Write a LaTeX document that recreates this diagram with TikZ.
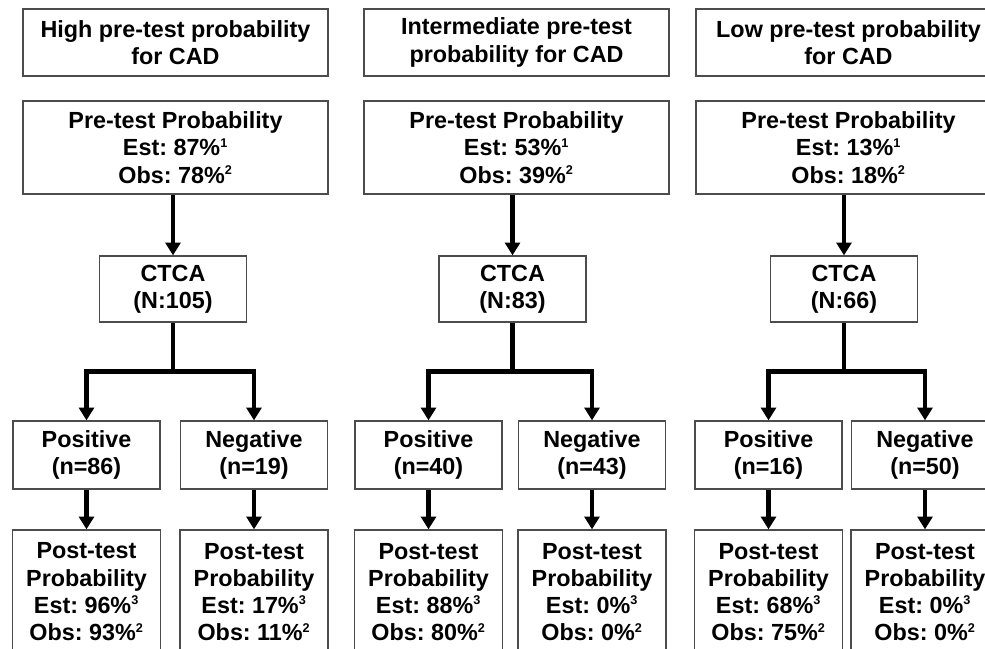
\documentclass[tikz,border=0pt]{standalone}
\usepackage{fontspec}
\setmainfont{Liberation Sans}
\usepackage{tikz}
\usetikzlibrary{arrows.meta}

\newcommand{\fn}[1]{\textsuperscript{\fontsize{9}{9}\selectfont #1}}

\tikzset{
  box/.style={draw=black!70, line width=0.9pt, align=center, inner sep=0pt,
    font=\frenchspacing\bfseries\fontsize{16.6}{19.4}\selectfont},
  headbox/.style={box, minimum width=7.625cm, minimum height=1.675cm},
  probbox/.style={box, minimum width=7.625cm, minimum height=2.325cm},
  testbox/.style={box, minimum width=3.675cm, minimum height=1.65cm},
  resbox/.style={box, minimum width=3.675cm, minimum height=1.7cm},
  postbox/.style={box, minimum width=3.7cm, minimum height=3.1cm},
  stem/.style={line width=3.4pt},
  arr/.style={line width=3.4pt, -{Triangle[width=10.5pt,length=9pt]}},
}

\begin{document}
\begin{tikzpicture}[x=0.025cm, y=-0.025cm]
    \useasboundingbox (0,0) rectangle (985,649);
    \clip (0,0) rectangle (985,649);

    % High pre-test probability
    \node[headbox] (headHigh) at (175.5,42.5) {High pre-test probability\\for CAD};
    \node[probbox] (preHigh) at (175.5,147.5) {Pre-test Probability\\Est: 87\%\fn{1}\\Obs: 78\%\fn{2}};
    \node[testbox] (ctcaHigh) at (173,289) {CTCA\\(N:105)};
    \node[resbox] (posHigh) at (86.5,455) {Positive\\(n=86)};
    \node[resbox] (negHigh) at (254,455) {Negative\\(n=19)};
    \node[postbox] (postPosHigh) at (86.5,592) {Post-test\\Probability\\Est: 96\%\fn{3}\\Obs: 93\%\fn{2}};
    \node[postbox] (postNegHigh) at (254,592) {Post-test\\Probability\\Est: 17\%\fn{3}\\Obs: 11\%\fn{2}};

    \draw[arr] (ctcaHigh.north |- preHigh.south) -- (ctcaHigh.north);
    \draw[stem] (ctcaHigh.south) -- ++(0,49) coordinate (splitHigh);
    \draw[arr] (splitHigh) -| (posHigh.north);
    \draw[arr] (splitHigh) -| (negHigh.north);
    \draw[arr] (posHigh.south) -- (postPosHigh.north);
    \draw[arr] (negHigh.south) -- (postNegHigh.north);

    % Intermediate pre-test probability
    \node[headbox] (headMid) at (516.5,42.5) {Intermediate pre-test\\probability for CAD};
    \node[probbox] (preMid) at (516.5,147.5) {Pre-test Probability\\Est: 53\%\fn{1}\\Obs: 39\%\fn{2}};
    \node[testbox] (ctcaMid) at (512.5,289) {CTCA\\(N:83)};
    \node[resbox] (posMid) at (428.5,455) {Positive\\(n=40)};
    \node[resbox] (negMid) at (592,455) {Negative\\(n=43)};
    \node[postbox] (postPosMid) at (428.5,592) {Post-test\\Probability\\Est: 88\%\fn{3}\\Obs: 80\%\fn{2}};
    \node[postbox] (postNegMid) at (592,592) {Post-test\\Probability\\Est: 0\%\fn{3}\\Obs: 0\%\fn{2}};

    \draw[arr] (ctcaMid.north |- preMid.south) -- (ctcaMid.north);
    \draw[stem] (ctcaMid.south) -- ++(0,49) coordinate (splitMid);
    \draw[arr] (splitMid) -| (posMid.north);
    \draw[arr] (splitMid) -| (negMid.north);
    \draw[arr] (posMid.south) -- (postPosMid.north);
    \draw[arr] (negMid.south) -- (postNegMid.north);

    % Low pre-test probability
    \node[headbox] (headLow) at (848.5,42.5) {Low pre-test probability\\for CAD};
    \node[probbox] (preLow) at (848.5,147.5) {Pre-test Probability\\Est: 13\%\fn{1}\\Obs: 18\%\fn{2}};
    \node[testbox] (ctcaLow) at (844,289) {CTCA\\(N:66)};
    \node[resbox] (posLow) at (768.5,455) {Positive\\(n=16)};
    \node[resbox] (negLow) at (925,455) {Negative\\(n=50)};
    \node[postbox] (postPosLow) at (768.5,592) {Post-test\\Probability\\Est: 68\%\fn{3}\\Obs: 75\%\fn{2}};
    \node[postbox] (postNegLow) at (925,592) {Post-test\\Probability\\Est: 0\%\fn{3}\\Obs: 0\%\fn{2}};

    \draw[arr] (ctcaLow.north |- preLow.south) -- (ctcaLow.north);
    \draw[stem] (ctcaLow.south) -- ++(0,49) coordinate (splitLow);
    \draw[arr] (splitLow) -| (posLow.north);
    \draw[arr] (splitLow) -| (negLow.north);
    \draw[arr] (posLow.south) -- (postPosLow.north);
    \draw[arr] (negLow.south) -- (postNegLow.north);

\end{tikzpicture}
\end{document}
